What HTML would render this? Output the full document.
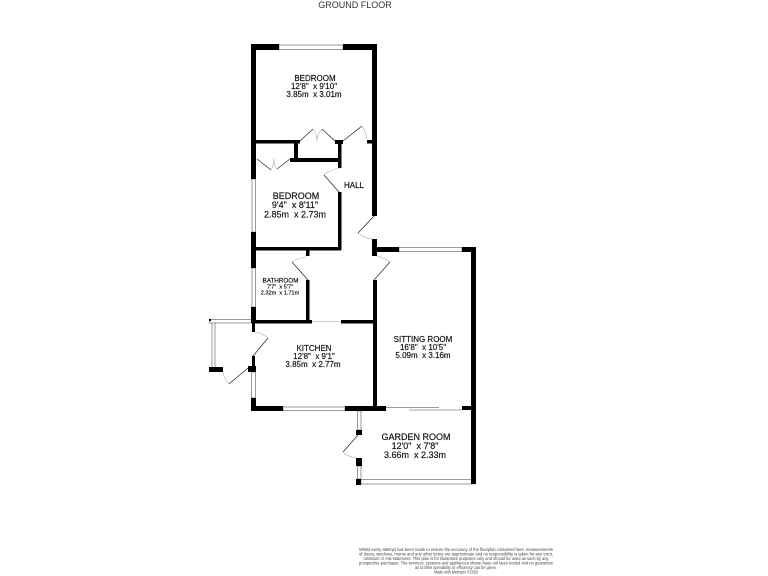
<!DOCTYPE html>
<html>
<head>
<meta charset="utf-8">
<style>
html,body{margin:0;padding:0;background:#fff;width:768px;height:576px;overflow:hidden}
svg{display:block}
text{font-family:"Liberation Sans",sans-serif;fill:#111;stroke:#111;stroke-width:.18;text-anchor:middle;white-space:pre}
.w{fill:#000}
.g{fill:#fff;stroke:#999;stroke-width:1}
.d{fill:none;stroke:#222;stroke-width:.7}
.a{fill:none;stroke:#aaa;stroke-width:.6}
</style>
</head>
<body>
<svg width="768" height="576" viewBox="0 0 768 576" xmlns="http://www.w3.org/2000/svg">
<!-- windows -->
<g class="g">
<rect x="279" y="45" width="64" height="4.5"/>
<rect x="252" y="179" width="3.5" height="53"/>
<rect x="252" y="268" width="3.5" height="39"/>
<rect x="399" y="247.5" width="63" height="4"/>
<rect x="209.500" y="319.500" width="42" height="3.500"/>
<rect x="212" y="323" width="3" height="45"/>
<rect x="251.500" y="372" width="4" height="26"/>
<rect x="283" y="407" width="62" height="3.500"/>
<rect x="357.500" y="411" width="3.500" height="19"/>
<rect x="357.500" y="466" width="3.500" height="13"/>
<rect x="361" y="479.500" width="113" height="4.500"/>
</g>
<!-- walls -->
<g class="w">
<rect x="251" y="44" width="28" height="6"/>
<rect x="343" y="44" width="34" height="6"/>
<rect x="251" y="44" width="5" height="135"/>
<rect x="372" y="44" width="5" height="172"/>
<rect x="251" y="140" width="49" height="3.500"/>
<rect x="294" y="140" width="4" height="22"/>
<rect x="290" y="158" width="51" height="4"/>
<rect x="335" y="140" width="8" height="4"/>
<rect x="338" y="140" width="3.500" height="28"/>
<rect x="367" y="140" width="10" height="3.500"/>
<rect x="338" y="192" width="3.500" height="58"/>
<rect x="251" y="232" width="5" height="36"/>
<rect x="251" y="247" width="90" height="3.500"/>
<rect x="372" y="239" width="5" height="17"/>
<rect x="372" y="247" width="27" height="5"/>
<rect x="462" y="247" width="14" height="5"/>
<rect x="471" y="247" width="5" height="237"/>
<rect x="306" y="250" width="3.500" height="6"/>
<rect x="306" y="280" width="3.500" height="41"/>
<rect x="251" y="307" width="5" height="16"/>
<rect x="253" y="320" width="59" height="3.500"/>
<rect x="341" y="320" width="34" height="3.500"/>
<rect x="373" y="280" width="4" height="128"/>
<rect x="252" y="323" width="3" height="9"/>
<rect x="252" y="356" width="3" height="12"/>
<rect x="248" y="366" width="8" height="6"/>
<rect x="209" y="367" width="14" height="5"/>
<rect x="209" y="319" width="2" height="2"/>
<rect x="251" y="398" width="5" height="13"/>
<rect x="251" y="406" width="32" height="5"/>
<rect x="345" y="406" width="41" height="5"/>
<rect x="462" y="406" width="10" height="4"/>
<rect x="356" y="430" width="6" height="5"/>
<rect x="356" y="458" width="6" height="8"/>
<rect x="356" y="479" width="5" height="6"/>
</g>
<!-- sliding doors and openings -->
<g fill="none" stroke="#777" stroke-width=".8">
<path d="M386 407.500H439"/>
<path d="M409 410H462" stroke="#888"/>
<path d="M312 321.500H341" stroke="#bbb"/>
</g>
<!-- door leaves -->
<g class="d">
<path d="M300 141L313 129"/>
<path d="M335 141L322 129"/>
<path d="M343 141L362 126"/>
<path d="M257 159L271 170"/>
<path d="M290 159L277 169"/>
<path d="M324 175L339 192"/>
<path d="M374 216L358 233"/>
<path d="M390 262L374 280"/>
<path d="M292 262L308 280"/>
<path d="M268 338L253 356"/>
<path d="M248 368L229 384"/>
<path d="M358 435L343 452"/>
</g>
<!-- door arcs -->
<g class="a">
<path d="M313 129Q317 134 317 141Q317 134 322 129"/>
<path d="M271 170Q274 165 274 159Q274 165 277 169"/>
<path d="M362 126Q366 131 367 139"/>
<path d="M340 168Q331 169 324 175"/>
<path d="M358 233Q364 238 372 239"/>
<path d="M377 256Q384 258 390 262"/>
<path d="M306 257Q298 258 292 262"/>
<path d="M255 332Q262 333 268 338"/>
<path d="M229 384Q224 379 223 372"/>
<path d="M343 452Q348 457 356 458"/>
</g>
<!-- labels -->
<text x="355" y="8" font-size="9" style="fill:#333;stroke:none">GROUND FLOOR</text>

<g font-size="8">
<text x="315" y="81">BEDROOM</text>
<text x="314" y="89">12'8"  x 9'10"</text>
<text x="314" y="97">3.85m  x 3.01m</text>
<text x="354" y="188">HALL</text>
<text x="314" y="351">KITCHEN</text>
<text x="314" y="359">12'8"  x 9'1"</text>
<text x="313" y="367">3.85m  x 2.77m</text>
<text x="423" y="342">SITTING ROOM</text>
<text x="423" y="350">16'8"  x 10'5"</text>
<text x="423" y="358">5.09m  x 3.16m</text>
</g>
<g font-size="9">
<text x="296" y="199">BEDROOM</text>
<text x="295" y="208">9'4"  x 8'11"</text>
<text x="295" y="217.500">2.85m  x 2.73m</text>
<text x="416" y="440">GARDEN ROOM</text>
<text x="415" y="449">12'0"  x 7'8"</text>
<text x="415" y="458">3.66m  x 2.33m</text>
</g>
<g font-size="6">
<text x="280.500" y="282.500" font-size="6.300">BATHROOM</text>
<text x="280" y="288.500" font-size="5.600">7'7"  x 5'7"</text>
<text x="280" y="294.500" font-size="5.600">2.32m  x 1.71m</text>
</g>
<g font-size="4.600" style="--x:0">
<text x="456" y="551" textLength="194" lengthAdjust="spacingAndGlyphs" style="fill:#444;stroke:none">Whilst every attempt has been made to ensure the accuracy of the floorplan contained here, measurements</text>
<text x="456" y="555.500" textLength="194" lengthAdjust="spacingAndGlyphs" style="fill:#444;stroke:none">of doors, windows, rooms and any other items are approximate and no responsibility is taken for any error,</text>
<text x="456" y="560" textLength="185" lengthAdjust="spacingAndGlyphs" style="fill:#444;stroke:none">omission or mis-statement. This plan is for illustrative purposes only and should be used as such by any</text>
<text x="456" y="564.500" textLength="194" lengthAdjust="spacingAndGlyphs" style="fill:#444;stroke:none">prospective purchaser. The services, systems and appliances shown have not been tested and no guarantee</text>
<text x="456" y="569" textLength="82" lengthAdjust="spacingAndGlyphs" style="fill:#444;stroke:none">as to their operability or efficiency can be given.</text>
<text x="456" y="573.500" textLength="44" lengthAdjust="spacingAndGlyphs" style="fill:#444;stroke:none">Made with Metropix ©2020</text>
</g>
</svg>
</body>
</html>
